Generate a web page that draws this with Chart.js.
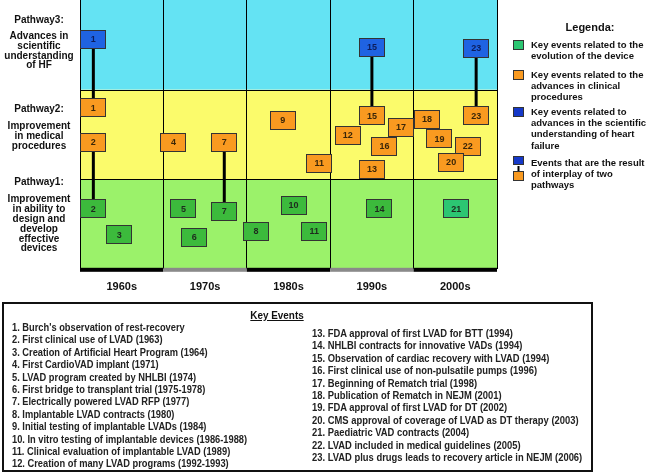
<!DOCTYPE html>
<html>
<head>
<meta charset="utf-8">
<script src="https://cdn.jsdelivr.net/npm/chart.js@4.4.1/dist/chart.umd.min.js"></script>
<style>
  body { margin: 0; background: #fff; font-family: "Liberation Sans", Arial, sans-serif; }
  #wrap { position: relative; width: 646px; height: 473px; overflow: hidden; }
  #myChart { position: absolute; left: 0; top: 0; }
  #keyBox { position: absolute; left: 2px; top: 302px; width: 587px; height: 166px; border: 2px solid #111; }
  #keyTitle { position: absolute; left: 227px; width: 100px; top: 309px; text-align: center;
              font: bold 11px "Liberation Sans", Arial, sans-serif; text-decoration: underline; color: #111;
              transform: scaleX(0.9); }
  .keyCol { position: absolute; font: bold 11px "Liberation Sans", Arial, sans-serif; color: #222;
            line-height: 12.4px; white-space: nowrap; transform-origin: left top; }
  #keyLeft { left: 12px; top: 321px; }
  #keyRight { left: 312px; top: 327px; }
</style>
</head>
<body>
<div id="wrap">
  <canvas id="myChart" width="646" height="319"></canvas>
  <div id="keyBox"></div>
  <div id="keyTitle">Key Events</div>
  <div id="keyLeft" class="keyCol"></div>
  <div id="keyRight" class="keyCol"></div>
</div>
<script>
// decades on the time axis
const decadeLabels = ['1960s', '1970s', '1980s', '1990s', '2000s'];

// pathways (bands), bottom to top
const bandTitles = ['Pathway1:', 'Pathway2:', 'Pathway3:'];
const bandTexts = [
    ['Improvement', 'in ability to', 'design and', 'develop', 'effective', 'devices'],
    ['Improvement', 'in medical', 'procedures'],
    ['Advances in', 'scientific', 'understanding', 'of HF']
];

// key events related to the evolution of the device (pathway 1)
const deviceIds = [2, 3, 5, 6, 7, 8, 10, 11, 14, 21];
const deviceYear = [1961.6, 1964.7, 1972.4, 1973.7, 1977.3, 1981.1, 1985.6, 1988.1, 1995.9, 2005.1];
const deviceLevel = [0.67, 0.38, 0.67, 0.35, 0.64, 0.42, 0.71, 0.42, 0.67, 0.67];

// key events related to clinical procedures (pathway 2)
const clinicalIds = [1, 2, 4, 7, 9, 11, 12, 13, 15, 16, 17, 18, 19, 22, 20, 23];
const clinicalYear = [1961.6, 1961.6, 1971.2, 1977.3, 1984.3, 1988.7, 1992.1, 1995.0, 1995.0, 1996.5, 1998.5, 2001.6, 2003.1, 2006.5, 2004.5, 2007.5];
const clinicalLevel = [1.80, 1.41, 1.41, 1.41, 1.66, 1.18, 1.49, 1.11, 1.71, 1.37, 1.58, 1.67, 1.45, 1.37, 1.19, 1.71];

// key events related to the scientific understanding of HF (pathway 3)
const scienceIds = [1, 15, 23];
const scienceYear = [1961.6, 1995.0, 2007.5];
const scienceLevel = [2.56, 2.47, 2.46];

// interplay of two pathways
const links = [
    ['science', 1, 'clinical', 1],
    ['clinical', 2, 'device', 2],
    ['clinical', 7, 'device', 7],
    ['science', 15, 'clinical', 15],
    ['science', 23, 'clinical', 23]
];

const legendTexts = [
    ['Key events related to the', 'evolution of the device'],
    ['Key events related to the', 'advances in clinical', 'procedures'],
    ['Key events related to', 'advances in the scientific', 'understanding of heart', 'failure'],
    ['Events that are the result', 'of interplay of two', 'pathways']
];

const keyEvents = [
    "1. Burch's observation of rest-recovery",
    "2. First clinical use of LVAD (1963)",
    "3. Creation of Artificial Heart Program (1964)",
    "4. First CardioVAD implant (1971)",
    "5. LVAD program created by NHLBI (1974)",
    "6. First bridge to transplant trial (1975-1978)",
    "7. Electrically powered LVAD RFP (1977)",
    "8. Implantable LVAD contracts (1980)",
    "9. Initial testing of implantable LVADs (1984)",
    "10. In vitro testing of implantable devices (1986-1988)",
    "11. Clinical evaluation of implantable LVAD (1989)",
    "12. Creation of many LVAD programs (1992-1993)",
    "13. FDA approval of first LVAD for BTT (1994)",
    "14. NHLBI contracts for innovative VADs (1994)",
    "15. Observation of cardiac recovery with LVAD (1994)",
    "16. First clinical use of non-pulsatile pumps (1996)",
    "17. Beginning of Rematch trial (1998)",
    "18. Publication of Rematch in NEJM (2001)",
    "19. FDA approval of first LVAD for DT (2002)",
    "20. CMS approval of coverage of LVAD as DT therapy (2003)",
    "21. Paediatric VAD contracts (2004)",
    "22. LVAD included in medical guidelines (2005)",
    "23. LVAD plus drugs leads to recovery article in NEJM (2006)"
];

const FONT = '"Liberation Sans", Arial, sans-serif';
const bandColors = ['#9bf26a', '#fbfb6b', '#64e3f3'];
const greenBox = '#3cba3c', greenBox21 = '#2cc672', orangeBox = '#f99a20', blueBox = '#1f63e2';

const series = {
    device: { ids: deviceIds, x: deviceYear, y: deviceLevel },
    clinical: { ids: clinicalIds, x: clinicalYear, y: clinicalLevel },
    science: { ids: scienceIds, x: scienceYear, y: scienceLevel }
};
function pointOf(name, id) {
    const s = series[name];
    const i = s.ids.indexOf(id);
    return { x: s.x[i], y: s.y[i] };
}
function pointsOf(name) {
    const s = series[name];
    return s.ids.map((id, i) => ({ x: s.x[i], y: s.y[i] }));
}

const linkSets = links.map(l => ({
    type: 'line',
    data: [pointOf(l[0], l[1]), pointOf(l[2], l[3])],
    borderColor: '#000',
    borderWidth: 3,
    pointRadius: 0,
    showLine: true
}));

const boxSets = [
    { data: pointsOf('device'), boxIds: deviceIds, boxColor: deviceIds.map(id => id === 21 ? greenBox21 : greenBox), textColor: '#1e2a1e' },
    { data: pointsOf('clinical'), boxIds: clinicalIds, boxColor: clinicalIds.map(() => orangeBox), textColor: '#3a2608' },
    { data: pointsOf('science'), boxIds: scienceIds, boxColor: scienceIds.map(() => blueBox), textColor: '#0c1c5a' }
].map(d => Object.assign(d, { pointRadius: 0, showLine: false }));

const pathwayPlugin = {
    id: 'pathways',
    beforeDraw(chart) {
        const { ctx, chartArea: a, scales: { y } } = chart;
        ctx.save();
        for (let b = 0; b < 3; b++) {
            const top = y.getPixelForValue(b + 1), bot = y.getPixelForValue(b);
            ctx.fillStyle = bandColors[b];
            ctx.fillRect(a.left, top, a.right - a.left, bot - top);
        }
        ctx.restore();
    },
    beforeDatasetsDraw(chart) {
        const { ctx, chartArea: a, scales: { x, y } } = chart;
        ctx.save();
        // band borders
        ctx.strokeStyle = '#000';
        ctx.lineWidth = 1;
        [1, 2].forEach(v => {
            const py = Math.round(y.getPixelForValue(v)) + 0.5;
            ctx.beginPath(); ctx.moveTo(a.left, py); ctx.lineTo(a.right, py); ctx.stroke();
        });
        // bottom decade bar
        decadeLabels.forEach((d, i) => {
            const x0 = x.getPixelForValue(1960 + i * 10), x1 = x.getPixelForValue(1970 + i * 10);
            ctx.fillStyle = i % 2 ? '#8a8a8a' : '#000';
            ctx.fillRect(x0, a.bottom - 1, x1 - x0, 4);
        });
        // pathway titles on the left
        ctx.fillStyle = '#111';
        ctx.textAlign = 'center';
        ctx.textBaseline = 'middle';
        ctx.font = 'bold 10px ' + FONT;
        const titleOff = [3, 20, 20];
        const textOff = [20, 37, 36];
        for (let b = 0; b < 3; b++) {
            const top = y.getPixelForValue(b + 1);
            ctx.fillText(bandTitles[b], 39, top + titleOff[b]);
            bandTexts[b].forEach((t, k) => ctx.fillText(t, 39, top + textOff[b] + k * 9.9));
        }
        ctx.restore();
    },
    afterDatasetsDraw(chart) {
        const { ctx } = chart;
        ctx.save();
        ctx.textAlign = 'center';
        ctx.textBaseline = 'middle';
        ctx.font = 'bold 9px ' + FONT;
        chart.data.datasets.forEach((ds, di) => {
            if (!ds.boxIds) return;
            chart.getDatasetMeta(di).data.forEach((el, i) => {
                const w = 26, h = 19;
                const bx = Math.round(el.x - w / 2), by = Math.round(el.y - h / 2);
                ctx.fillStyle = ds.boxColor[i];
                ctx.fillRect(bx, by, w, h);
                ctx.strokeStyle = '#333';
                ctx.lineWidth = 1;
                ctx.strokeRect(bx + 0.5, by + 0.5, w - 1, h - 1);
                ctx.fillStyle = ds.textColor;
                ctx.fillText(String(ds.boxIds[i]), el.x, el.y + 0.5);
            });
        });
        ctx.restore();
    },
    afterDraw(chart) {
        const { ctx } = chart;
        ctx.save();
        ctx.fillStyle = '#111';
        ctx.textBaseline = 'middle';
        ctx.textAlign = 'center';
        ctx.font = 'bold 11px ' + FONT;
        ctx.fillText('Legenda:', 590, 28);
        ctx.textAlign = 'left';
        ctx.font = 'bold 9.5px ' + FONT;
        const firstY = [45, 75, 112, 163];
        const sq = [[greenBox21], [orangeBox], ['#1538c8'], ['#1538c8', orangeBox]];
        legendTexts.forEach((lines, i) => {
            lines.forEach((t, k) => ctx.fillText(t, 531, firstY[i] + k * 11.3));
            const sy = firstY[i] - 5;
            if (sq[i].length === 1) {
                ctx.fillStyle = sq[i][0];
                ctx.fillRect(513, sy, 11, 10);
                ctx.strokeStyle = '#333';
                ctx.strokeRect(513.5, sy + 0.5, 10, 9);
            } else {
                ctx.strokeStyle = '#000';
                ctx.lineWidth = 2;
                ctx.beginPath(); ctx.moveTo(518.5, sy + 8); ctx.lineTo(518.5, sy + 17); ctx.stroke();
                ctx.lineWidth = 1;
                ctx.fillStyle = sq[i][0];
                ctx.fillRect(513, sy - 2, 11, 9);
                ctx.strokeStyle = '#333';
                ctx.strokeRect(513.5, sy - 1.5, 10, 8);
                ctx.fillStyle = sq[i][1];
                ctx.fillRect(513, sy + 13, 11, 10);
                ctx.strokeRect(513.5, sy + 13.5, 10, 9);
            }
            ctx.fillStyle = '#111';
        });
        ctx.restore();
    }
};

const ctx = document.getElementById('myChart').getContext('2d');
const myChart = new Chart(ctx, {
    type: 'scatter',
    data: { datasets: [...linkSets, ...boxSets] },
    plugins: [pathwayPlugin],
    options: {
        responsive: false,
        animation: false,
        devicePixelRatio: 1,
        events: [],
        layout: { padding: { left: 80, right: 149, top: 0, bottom: 13 } },
        plugins: { legend: { display: false }, tooltip: { enabled: false } },
        scales: {
            x: {
                type: 'linear',
                min: 1960,
                max: 2010,
                border: { display: false },
                grid: {
                    drawTicks: false,
                    color: c => (c.tick && c.tick.value % 10 === 0) ? '#000' : 'rgba(0,0,0,0)',
                    lineWidth: 1
                },
                ticks: {
                    stepSize: 5,
                    autoSkip: false,
                    maxRotation: 0,
                    padding: 12,
                    color: '#111',
                    font: { family: FONT, size: 11, weight: 'bold' },
                    callback: v => v % 10 === 5 ? decadeLabels[(v - 1965) / 10] : ''
                }
            },
            y: {
                display: false,
                min: 0,
                max: 3
            }
        }
    }
});

// key events list below the chart
const leftCol = document.getElementById('keyLeft');
const rightCol = document.getElementById('keyRight');
keyEvents.forEach((t, i) => {
    const div = document.createElement('div');
    div.textContent = t;
    (i < 12 ? leftCol : rightCol).appendChild(div);
});
function fitCol(col, target) {
    col.style.transform = 'scaleX(' + (target / col.scrollWidth) + ')';
}
fitCol(leftCol, 235);
fitCol(rightCol, 270);
</script>
</body>
</html>
